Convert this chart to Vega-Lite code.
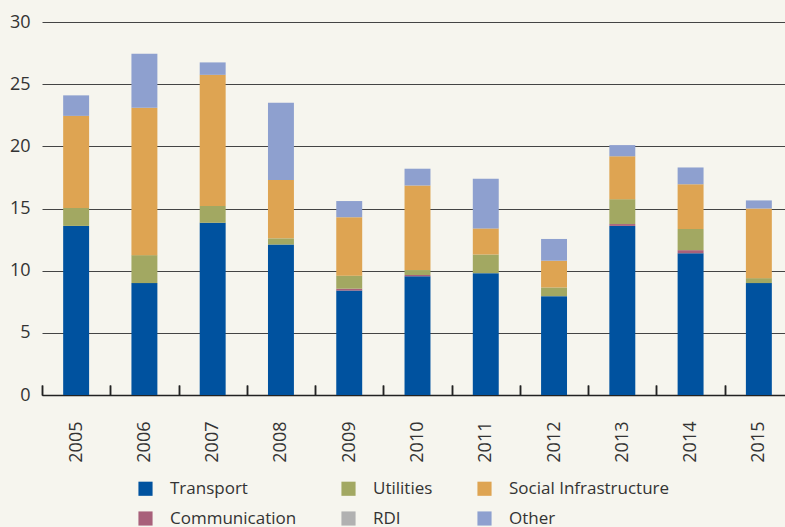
{
  "$schema": "https://vega.github.io/schema/vega-lite/v6.json",
  "width": 751,
  "height": 373,
  "autosize": {"type": "none"},
  "padding": {"left": 42, "top": 22, "right": 0, "bottom": 132},
  "background": "#f6f5ee",
  "config": {"view": {"stroke": null}, "font": "Open Sans"},
  "data": {
    "values": [
      {"year": "2005", "sector": "Transport", "value": 13.6},
      {"year": "2005", "sector": "Utilities", "value": 1.45},
      {"year": "2005", "sector": "Social Infrastructure", "value": 7.4},
      {"year": "2005", "sector": "Other", "value": 1.65},
      {"year": "2006", "sector": "Transport", "value": 9.0},
      {"year": "2006", "sector": "Utilities", "value": 2.25},
      {"year": "2006", "sector": "Social Infrastructure", "value": 11.85},
      {"year": "2006", "sector": "Other", "value": 4.35},
      {"year": "2007", "sector": "Transport", "value": 13.85},
      {"year": "2007", "sector": "Utilities", "value": 1.35},
      {"year": "2007", "sector": "Social Infrastructure", "value": 10.55},
      {"year": "2007", "sector": "Other", "value": 1.0},
      {"year": "2008", "sector": "Transport", "value": 12.1},
      {"year": "2008", "sector": "Utilities", "value": 0.5},
      {"year": "2008", "sector": "Social Infrastructure", "value": 4.7},
      {"year": "2008", "sector": "Other", "value": 6.2},
      {"year": "2009", "sector": "Transport", "value": 8.4},
      {"year": "2009", "sector": "Communication", "value": 0.15},
      {"year": "2009", "sector": "Utilities", "value": 1.05},
      {"year": "2009", "sector": "Social Infrastructure", "value": 4.7},
      {"year": "2009", "sector": "Other", "value": 1.3},
      {"year": "2010", "sector": "Transport", "value": 9.55},
      {"year": "2010", "sector": "Communication", "value": 0.1},
      {"year": "2010", "sector": "Utilities", "value": 0.4},
      {"year": "2010", "sector": "Social Infrastructure", "value": 6.8},
      {"year": "2010", "sector": "Other", "value": 1.35},
      {"year": "2011", "sector": "Transport", "value": 9.8},
      {"year": "2011", "sector": "Utilities", "value": 1.5},
      {"year": "2011", "sector": "Social Infrastructure", "value": 2.1},
      {"year": "2011", "sector": "Other", "value": 4.0},
      {"year": "2012", "sector": "Transport", "value": 7.95},
      {"year": "2012", "sector": "Utilities", "value": 0.7},
      {"year": "2012", "sector": "Social Infrastructure", "value": 2.15},
      {"year": "2012", "sector": "Other", "value": 1.75},
      {"year": "2013", "sector": "Transport", "value": 13.6},
      {"year": "2013", "sector": "Communication", "value": 0.15},
      {"year": "2013", "sector": "Utilities", "value": 2.0},
      {"year": "2013", "sector": "Social Infrastructure", "value": 3.45},
      {"year": "2013", "sector": "Other", "value": 0.9},
      {"year": "2014", "sector": "Transport", "value": 11.4},
      {"year": "2014", "sector": "Communication", "value": 0.25},
      {"year": "2014", "sector": "Utilities", "value": 1.7},
      {"year": "2014", "sector": "Social Infrastructure", "value": 3.6},
      {"year": "2014", "sector": "Other", "value": 1.35},
      {"year": "2015", "sector": "Transport", "value": 9.0},
      {"year": "2015", "sector": "Utilities", "value": 0.4},
      {"year": "2015", "sector": "Social Infrastructure", "value": 5.6},
      {"year": "2015", "sector": "Other", "value": 0.65}
    ]
  },
  "transform": [
    {"calculate": "indexof(['Transport','Communication','Utilities','Social Infrastructure','RDI','Other'], datum.sector)", "as": "stackOrder"}
  ],
  "resolve": {"axis": {"x": "independent"}},
  "layer": [
    {
      "mark": {"type": "bar"},
      "encoding": {
        "x": {
          "field": "year",
          "type": "ordinal",
          "scale": {"paddingInner": 0.62, "paddingOuter": 0.31},
          "axis": {
            "title": null,
            "labelAngle": -90,
            "labelAlign": "right",
            "labelBaseline": "middle",
            "labelFontSize": 18,
            "labelColor": "#333333",
            "labelPadding": 36,
            "labelOffset": 34.14,
            "tickOffset": -34.14,
            "tickSize": -10,
            "tickColor": "#222222",
            "tickWidth": 1.5,
            "domainColor": "#222222",
            "domainWidth": 1.5,
            "grid": false
          }
        },
        "y": {
          "field": "value",
          "type": "quantitative",
          "stack": "zero",
          "scale": {"domain": [0, 30], "nice": false},
          "axis": {
            "title": null,
            "values": [0, 5, 10, 15, 20, 25, 30],
            "labelFontSize": 18,
            "labelColor": "#333333",
            "labelPadding": 12,
            "ticks": false,
            "domain": false,
            "grid": true,
            "gridColor": "#444444",
            "gridWidth": 1
          }
        },
        "order": {"field": "stackOrder", "type": "quantitative", "sort": "ascending"},
        "color": {
          "field": "sector",
          "type": "nominal",
          "scale": {
            "domain": ["Transport", "Utilities", "Social Infrastructure", "Communication", "RDI", "Other"],
            "range": ["#00529f", "#a2a862", "#dea452", "#a8607a", "#b1b1b1", "#8ea0cf"]
          },
          "legend": {
            "title": null,
            "orient": "none",
            "legendX": 95,
            "legendY": 458,
            "direction": "horizontal",
            "columns": 3,
            "columnPadding": 43,
            "rowPadding": 12,
            "symbolType": "square",
            "symbolSize": 200,
            "symbolStrokeWidth": 0,
            "labelFontSize": 17,
            "labelLimit": 400,
            "labelColor": "#333333",
            "labelOffset": 16
          }
        }
      }
    },
    {
      "mark": {"type": "bar", "opacity": 0},
      "encoding": {
        "x": {
          "field": "year",
          "type": "ordinal",
          "axis": {
            "orient": "top",
            "offset": -373,
            "title": null,
            "labels": false,
            "domain": false,
            "grid": false,
            "ticks": true,
            "tickSize": 10,
            "tickOffset": -34.14,
            "tickColor": "#222222",
            "tickWidth": 1.5
          }
        },
        "y": {"field": "value", "type": "quantitative", "stack": "zero"}
      }
    }
  ]
}
